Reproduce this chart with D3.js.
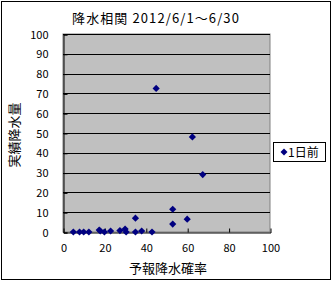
<!DOCTYPE html>
<html><head><meta charset="utf-8">
<script src="https://cdn.jsdelivr.net/npm/d3@7"></script>
<style>body{margin:0;background:#fff}svg{display:block}text{font-family:"Noto Sans CJK JP","Noto Sans",sans-serif;fill:#000}</style>
</head><body><svg id="c" width="333" height="282"></svg>
<script>
const title = "降水相関 2012/6/1～6/30";
const xTitle = "予報降水確率";
const yTitle = "実績降水量";
const seriesName = "1日前";
const forecast = [5, 8, 10, 12.5, 17.5, 18, 20, 23, 27.5, 30, 30.5, 35, 38, 43, 35, 53, 53, 60, 45, 62.5, 67.5];
const actual   = [0, 0, 0, 0, 1, 0.5, 0, 0.5, 0.7, 1.5, 0, 0, 0.5, 0, 7, 11.5, 4, 6.5, 72.5, 48, 29];
const xTicks = [0, 20, 40, 60, 80, 100];
const yTicks = [0, 10, 20, 30, 40, 50, 60, 70, 80, 90, 100];

const svg = d3.select("#c");
const L = 63, R = 270, T = 34, B = 232;
const x = d3.scaleLinear().domain([0, 100]).range([L, R]);
const y = d3.scaleLinear().domain([0, 100]).range([B, T]);

svg.append("rect").attr("x", 1.5).attr("y", 1.5).attr("width", 329).attr("height", 278)
  .attr("fill", "#fff").attr("stroke", "#000").attr("stroke-width", 1);

svg.append("rect").attr("x", L).attr("y", T).attr("width", R - L).attr("height", B - T)
  .attr("fill", "#c0c0c0").attr("stroke", "#808080").attr("stroke-width", 1);

// gridlines
svg.append("g").selectAll("line").data(yTicks.filter(d => d > 0)).join("line")
  .attr("x1", L).attr("x2", R).attr("y1", d => Math.round(y(d)) + 0.5).attr("y2", d => Math.round(y(d)) + 0.5)
  .attr("stroke", "#000").attr("stroke-width", 1);

// axes
const yAxis = svg.append("g").attr("transform", `translate(${L + 0.5},0.5)`)
  .call(d3.axisLeft(y).tickValues(yTicks).tickSize(-4).tickPadding(15));
const xAxis = svg.append("g").attr("transform", `translate(0.5,${B + 0.5})`)
  .call(d3.axisBottom(x).tickValues(xTicks).tickSize(-4).tickPadding(12));
[yAxis, xAxis].forEach(g => {
  g.select(".domain").attr("stroke", "#000");
  g.selectAll(".tick line").attr("stroke", "#000");
  g.selectAll("text").attr("font-size", 11).style("font-family", '"Noto Sans CJK JP",sans-serif').attr("fill", "#000");
});
xAxis.selectAll(".tick line").filter(d => d === 0 || d === 100).remove();

// points
const diamond = "M0,-3.6L3.6,0L0,3.6L-3.6,0Z";
svg.append("g").selectAll("path").data(forecast.map((f, i) => [f, actual[i]])).join("path")
  .attr("d", diamond).attr("transform", d => `translate(${x(d[0])},${y(d[1])})`)
  .attr("fill", "#000080");

// titles
svg.append("text").attr("x", 156).attr("y", 23).attr("text-anchor", "middle").attr("font-size", 13)
  .style("letter-spacing", "1.1px").text(title);
svg.append("text").attr("x", 168).attr("y", 273).attr("text-anchor", "middle").attr("font-size", 13).text(xTitle);
svg.append("text").attr("transform", "translate(19,135) rotate(-90)").attr("text-anchor", "middle").attr("font-size", 13).text(yTitle);

// legend
svg.append("rect").attr("x", 273.5).attr("y", 142.5).attr("width", 52).attr("height", 19)
  .attr("fill", "#fff").attr("stroke", "#000");
svg.append("path").attr("d", "M0,-3.5L3.5,0L0,3.5L-3.5,0Z").attr("transform", "translate(284,152)").attr("fill", "#000080");
svg.append("text").attr("x", 288).attr("y", 156.5).attr("font-size", 12).text(seriesName);
</script></body></html>
